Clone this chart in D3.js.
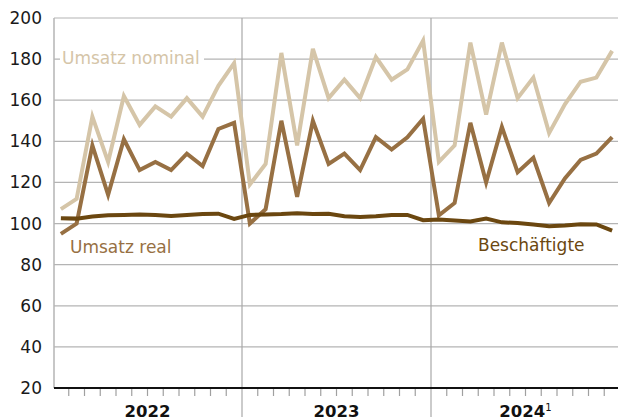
<!DOCTYPE html>
<html>
<head>
<meta charset="utf-8">
<script src="https://cdn.jsdelivr.net/npm/d3@7"></script>
<style>
  body { margin: 0; background: #fff; }
  svg text { font-family: "DejaVu Sans", "Liberation Sans", Arial, sans-serif; }
</style>
</head>
<body>
<div id="viz-container"></div>
<script>
// monthly values, Jan 2022 .. Dec 2024
var years = ["2022", "2023", "2024"];
var yTicks = [20, 40, 60, 80, 100, 120, 140, 160, 180, 200];

var nominal = [107, 112, 152, 130, 162, 148, 157, 152, 161, 152, 167, 178,
               119, 129, 183, 138, 185, 161, 170, 161, 181, 170, 175, 189,
               130, 138, 188, 153, 188, 161, 171, 144, 158, 169, 171, 184];
var real = [95, 100, 138, 114, 141, 126, 130, 126, 134, 128, 146, 149,
            100, 107, 150, 113, 150, 129, 134, 126, 142, 136, 142, 151,
            104, 110, 149, 120, 147, 125, 132, 110, 122, 131, 134, 142];
var employed = [102.6, 102.4, 103.4, 104, 104.2, 104.4, 104.2, 103.7, 104.2, 104.6, 104.8, 102.3,
                104.2, 104.4, 104.6, 105, 104.7, 104.8, 103.6, 103.2, 103.6, 104.2, 104.2, 101.6,
                102, 101.5, 101, 102.4, 100.6, 100.3, 99.5, 98.7, 99, 99.7, 99.6, 96.6];

var width = 618, height = 420;

var svg = d3.select('#viz-container')
    .append('svg')
      .attr('width', width)
      .attr('height', height);

var xScale = d3.scaleLinear()
    .domain([0, 36])
    .range([53, 620]);

var yScale = d3.scaleLinear()
    .domain([20, 200])
    .range([388, 18]);

// horizontal grid
svg.append('g')
  .selectAll('line')
  .data(yTicks)
  .enter().append('line')
    .attr('x1', 54).attr('x2', width)
    .attr('y1', function(d) { return yScale(d); })
    .attr('y2', function(d) { return yScale(d); })
    .attr('stroke', '#b4b4b4')
    .attr('stroke-width', 1.2);

// y labels
svg.append('g')
  .selectAll('text')
  .data(yTicks)
  .enter().append('text')
    .attr('x', 42)
    .attr('y', function(d) { return yScale(d) + 6; })
    .attr('text-anchor', 'end')
    .attr('font-size', 17)
    .attr('fill', '#1a1a1a')
    .text(function(d) { return d; });

// y axis line
svg.append('line')
    .attr('x1', 54).attr('x2', 54)
    .attr('y1', yScale(200)).attr('y2', yScale(20))
    .attr('stroke', '#b4b4b4').attr('stroke-width', 1.5);

// year separators
svg.append('g')
  .selectAll('line')
  .data([12, 24])
  .enter().append('line')
    .attr('x1', function(d) { return xScale(d); })
    .attr('x2', function(d) { return xScale(d); })
    .attr('y1', yScale(200)).attr('y2', 417)
    .attr('stroke', '#a8a8a8').attr('stroke-width', 1.2);

// month ticks
var monthTicks = d3.range(1, 36).filter(function(m) { return m % 12 != 0; });
svg.append('g')
  .selectAll('line')
  .data(monthTicks)
  .enter().append('line')
    .attr('x1', function(d) { return xScale(d); })
    .attr('x2', function(d) { return xScale(d); })
    .attr('y1', 389).attr('y2', 396)
    .attr('stroke', '#a0a0a0').attr('stroke-width', 1.2);

// x axis
svg.append('line')
    .attr('x1', 54).attr('x2', width)
    .attr('y1', 388).attr('y2', 388)
    .attr('stroke', '#111').attr('stroke-width', 2);

// year labels
var yl = svg.append('g')
  .selectAll('text')
  .data(years)
  .enter().append('text')
    .attr('x', function(d, i) { return xScale(i * 12 + 6); })
    .attr('y', 417)
    .attr('text-anchor', 'middle')
    .attr('font-size', 16.5)
    .attr('font-weight', 'bold')
    .attr('fill', '#111');
yl.append('tspan').text(function(d) { return d; });
yl.filter(function(d, i) { return i == 2; })
  .append('tspan')
    .attr('dy', -6)
    .attr('font-size', 10)
    .attr('font-weight', 'normal')
    .text('1');

var line = d3.line()
    .x(function(d, i) { return xScale(i + 0.5); })
    .y(function(d) { return yScale(d); });

function drawLine(data, color) {
  svg.append('path')
      .datum(data)
      .attr('d', line)
      .attr('fill', 'none')
      .attr('stroke', color)
      .attr('stroke-width', 4)
      .attr('stroke-linejoin', 'miter');
}

drawLine(nominal, '#d5c5a8');
drawLine(real, '#977043');
drawLine(employed, '#6b4710');

// labels
var nomLabel = svg.append('g');
nomLabel.append('rect')
    .attr('x', 60).attr('y', 48)
    .attr('width', 144).attr('height', 22)
    .attr('fill', '#fff');
nomLabel.append('text')
    .attr('x', 62).attr('y', 64)
    .attr('font-size', 17)
    .attr('fill', '#d5c5a8')
    .text('Umsatz nominal');

svg.append('text')
    .attr('x', 70).attr('y', 253)
    .attr('font-size', 17)
    .attr('fill', '#977043')
    .text('Umsatz real');

svg.append('text')
    .attr('x', 478).attr('y', 251)
    .attr('font-size', 17)
    .attr('fill', '#6b4710')
    .text('Beschäftigte');
</script>
</body>
</html>
